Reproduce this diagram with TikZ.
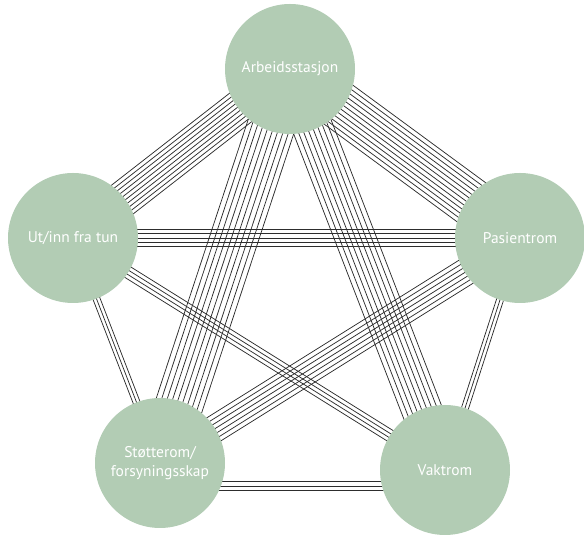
\documentclass[tikz,border=0pt]{standalone}
\usepackage{fontspec}
\setmainfont{PT Sans}
\usetikzlibrary{calc}
\pgfdeclarelayer{bg}
\pgfsetlayers{bg,main}
\definecolor{nodegreen}{RGB}{178,204,180}
\definecolor{linegray}{RGB}{45,45,45}
\tikzset{
  circ/.style={circle,fill=nodegreen,minimum size=130pt,inner sep=0pt,text=white,font=\fontsize{15.5}{19}\selectfont,align=center},
  bline/.style={draw=linegray,line width=0.75pt}
}
% #1 from, #2 to, #3 number of lines, #4 spacing (pt)
\newcommand\bundle[4]{%
  \pgfmathsetmacro\bhalf{(#3-1)/2}%
  \foreach \i in {1,...,#3}{%
    \pgfmathsetmacro\boff{(\i-1-\bhalf)*#4}%
    \draw[bline] ($(#1.center)!\boff pt!90:(#2.center)$) -- ($(#2.center)!\boff pt!-90:(#1.center)$);
  }%
}
\begin{document}
\begin{tikzpicture}[x=1pt,y=1pt]
\useasboundingbox (0,0) rectangle (584,535);
\node[circ] (A) at (290,466) {Arbeidsstasjon};
\node[circ] (U) at (73,297) {Ut/inn fra tun};
\node[circ] (P) at (520,297) {Pasientrom};
\node[circ] (S) at (160,72) {Støtterom/\\forsyningsskap};
\node[circ] (V) at (445,65) {Vaktrom};
\coordinate (sv) at ([yshift=-23pt]S.center);
\coordinate (vs) at ([yshift=-16pt]V.center);
\begin{pgfonlayer}{bg}
\bundle{A}{U}{10}{4}
\bundle{A}{P}{12}{4.4}
\bundle{A}{S}{10}{5.3}
\bundle{A}{V}{9}{5}
\bundle{U}{P}{5}{4.2}
\bundle{P}{S}{7}{4.5}
\bundle{U}{V}{4}{4}
\bundle{U}{S}{3}{3.5}
\bundle{P}{V}{3}{3.5}
\bundle{sv}{vs}{3}{4.5}
\end{pgfonlayer}
\end{tikzpicture}
\end{document}
